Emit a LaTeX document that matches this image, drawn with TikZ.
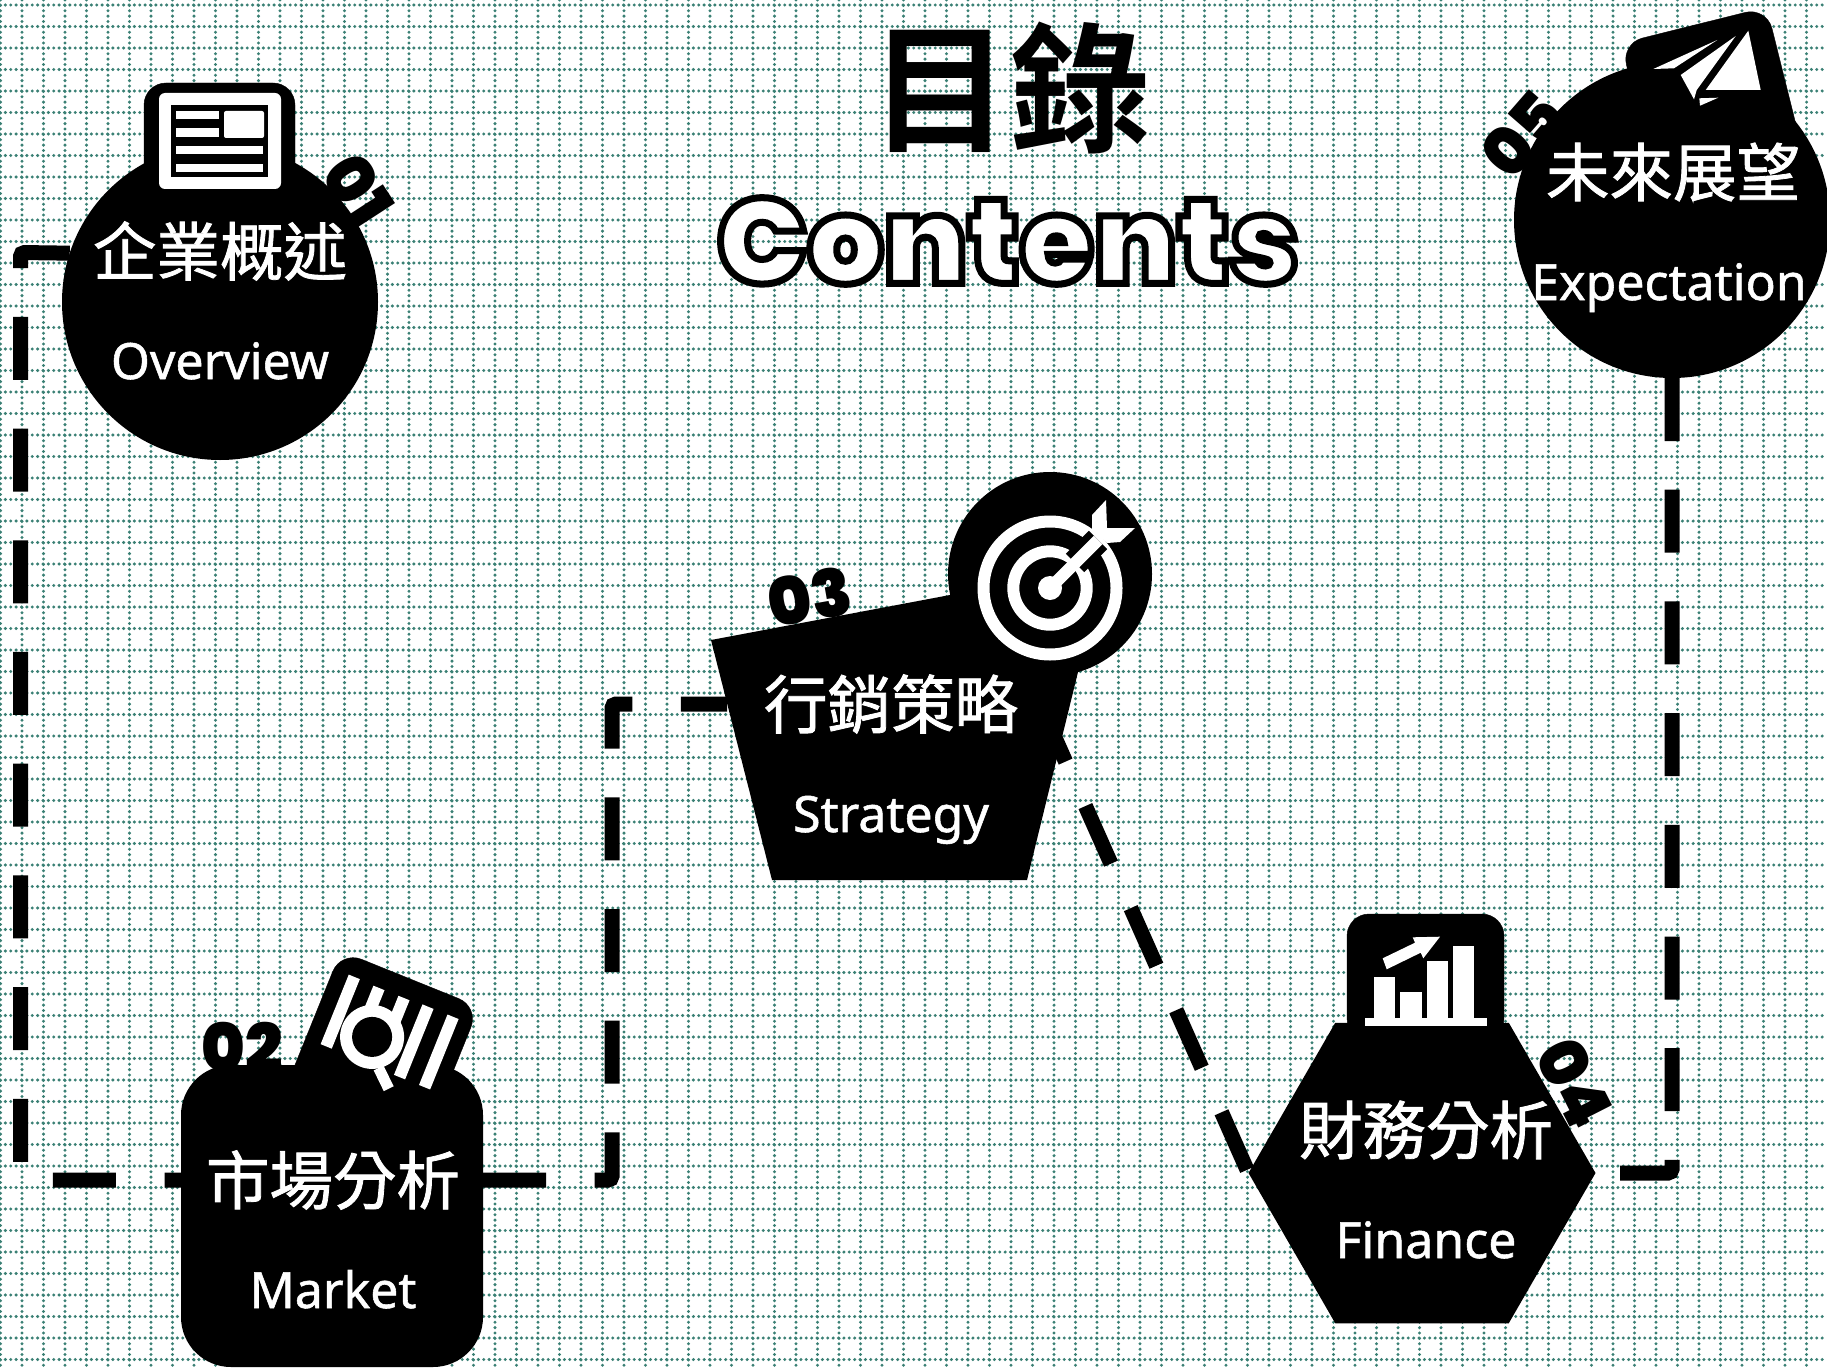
\documentclass[tikz,border=0pt]{standalone}
\usepackage{fontspec}
\usetikzlibrary{shapes.geometric}
\setmainfont[FakeBold=1.1]{Noto Sans}
\newfontfamily\zhfont[FakeBold=1.3]{Noto Sans CJK TC}
\newfontfamily\zhbold{Noto Sans CJK TC Bold}
\newfontfamily\headfont{Poppins Black}
\newfontfamily\numfont{Poppins Black}
\definecolor{gridteal}{HTML}{3A8074}
% texto con contorno
\newcommand{\outlined}[3]{\special{pdf:code #1 w 0 0 0 RG #2 rg 2 Tr}#3\special{pdf:code 0 Tr 1 w}}
\begin{document}
\begin{tikzpicture}[x=1pt, y=-1pt,
    link/.style={line width=15pt, dash pattern=on 63pt off 48.7pt, rounded corners=4pt},
    gridline/.style={gridteal, line width=3.3pt, line cap=round, dash pattern=on 0pt off 5.375pt},
    zhtext/.style={text=white, inner sep=0pt, font=\zhfont\fontsize{63.5}{70}\selectfont},
    entext/.style={text=white, inner sep=0pt, text height=36pt, text depth=10pt, font=\fontsize{50}{58}\selectfont, below of=#1, node distance=115pt},
    numtext/.style={inner sep=0pt, font=\numfont\fontsize{66}{70}\selectfont},
    iconbox/.style={fill=black, rounded corners=22pt},
    blob/.style={circle, fill=black, inner sep=0pt, outer sep=0pt},
    hexa/.style={regular polygon, regular polygon sides=6, fill=black, minimum size=347pt, inner sep=0pt, outer sep=0pt},
    squarish/.style={fill=black, rounded corners=50pt, minimum size=302pt, inner sep=0pt, outer sep=0pt}]

    \useasboundingbox (0,0) rectangle (1827,1367);
    \clip (0,0) rectangle (1827,1367);
    \fill[white] (0,0) rectangle (1827,1367);

    % Fondo punteado
    \foreach \gx in {0,...,84}
        \draw[gridline] (0.5+21.5*\gx,0) -- (0.5+21.5*\gx,1367);
    \foreach \gy in {0,...,63}
        \draw[gridline] (0,5+21.5*\gy) -- (1827,5+21.5*\gy);

    % Nodos principales
    \path node[blob, minimum size=316pt] (Ov) at (220,302) {}
          node[squarish] (Mk) at (332,1216) {}
          node[hexa] (Fi) at (1422,1173) {}
          node[blob, minimum size=316pt] (Ex) at (1672,220) {}
          node[blob, minimum size=204pt] (Tg) at (1050,574) {};
    \coordinate (StA) at (711,640);
    \coordinate (StB) at (1104,566);
    \coordinate (StC) at (1027,880);
    \coordinate (StD) at (772,880);
    \coordinate (StL) at (727,704);
    \coordinate (StR) at (1040,704);
    \fill (StA) -- (StB) -- (StC) -- (StD) -- cycle;

    % Conexiones punteadas
    \coordinate (bendA) at (20.5,252.5);
    \coordinate (bendB) at (20.5,1180);
    \coordinate (bendC) at (612,1180);
    \coordinate (bendD) at (612,704);
    \coordinate (bendE) at (1672,1173);
    \draw[link] (Ov.162) -- (bendA) -- (bendB) -- (Mk.west |- bendB);
    \draw[link] (Mk.east |- bendC) -- (bendC) -- (bendD) -- (StL);
    \draw[link] (StR) -- (Fi.corner 3);
    \draw[link] (Ex.south) -- (bendE) -- (Fi.corner 6);

    % Titulo
    \node[inner sep=0pt, font=\zhbold\fontsize{140}{150}\selectfont] (Title) at (1010,88) {目錄};
    \node[inner sep=0pt, font=\headfont\fontsize{120}{130}\selectfont] (Sub) at (1008,241) {\outlined{7}{1 1 1}{Contents}};

    % Icono 01
    \draw[iconbox] (144,83) rectangle (295,240);
    \fill[white, rounded corners=6pt] (159,93) rectangle (281,189);
    \fill (171,105) rectangle (268,177);
    \fill[white] (176,111) rectangle (219,119);
    \fill[white] (176,128) rectangle (219,137);
    \fill[white] (176,146) rectangle (263,154);
    \fill[white] (176,164) rectangle (263,172);
    \fill[white, rounded corners=2pt] (224,111) rectangle (264,138);

    % Icono 02
    \begin{scope}[shift={(378,1049)}, rotate=-22]
        \draw[iconbox] (-71,-77) rectangle (78,71);
        \fill[white] (-55,-58) rectangle (-43,17);
        \fill[white] (-28,-57) rectangle (-16,-30);
        \fill[white] (-1,-57) rectangle (11,-30);
        \fill[white] (24.5,-58) rectangle (36.5,18);
        \fill[white] (51.5,-58) rectangle (63.5,18);
        \draw[white, line width=11pt] (7.7,17.4) -- (24.8,32.8);
        \fill[white] (-10,-9) circle (32);
        \fill (-10,-9) circle (20);
    \end{scope}

    % Icono 03
    \draw[white, line width=12pt] (1050,588) circle (66.5);
    \draw[white, line width=12pt] (1050,588) circle (36.7);
    \fill[white] (1050,588) circle (12);
    \draw[black, line width=26pt] (1075,563) -- (1098,540);
    \draw[white, line width=12pt] (1050,588) -- (1098,540);
    \fill[white] (1106,500) -- (1092,515) -- (1092,530) -- (1107,543) -- (1120,542) -- (1135,528) -- (1107,528) -- cycle;

    % Icono 04
    \draw[iconbox] (1347,914) rectangle (1504,1040);
    \fill[white] (1373.5,976.7) rectangle (1395,1018.3);
    \fill[white] (1400,991.7) rectangle (1421.7,1018.3);
    \fill[white] (1426.7,961) rectangle (1448.3,1018.3);
    \fill[white] (1453.3,946) rectangle (1474.3,1018.3);
    \fill[white] (1365,1018.3) rectangle (1486.7,1026);
    \fill[white] (1382.7,958.3) -- (1415,942.7) -- (1412.7,937.3) -- (1440,936.7) -- (1423.3,958.3) -- (1420.7,952.7) -- (1386.7,969.3) -- cycle;

    % Icono 05
    \begin{scope}[shift={(1712,98)}, rotate=14]
        \draw[iconbox] (-75,-75) rectangle (75,75);
    \end{scope}
    \fill[white] (1653.3,69) -- (1717.3,40) -- (1674,68.3) -- cycle;
    \fill[white] (1680.7,75) -- (1735.7,36) -- (1696.7,90) -- (1694,99.3) -- cycle;
    \fill[white] (1748.3,30.7) -- (1760.7,90) -- (1705.7,90) -- cycle;
    \fill[white] (1699.3,98.3) -- (1718.3,97.7) -- (1700,105.7) -- cycle;

    % Textos de cada nodo
    \node[zhtext] (OvZh) at (220,251) {企業概述};
    \node[entext=OvZh] (OvEn) {Overview};
    \node[zhtext] (MkZh) at (333,1180) {市場分析};
    \node[entext=MkZh] (MkEn) {Market};
    \node[zhtext] (StZh) at (891,704) {行銷策略};
    \node[entext=StZh] (StEn) {Strategy};
    \node[zhtext] (FiZh) at (1426,1130) {財務分析};
    \node[entext=FiZh] (FiEn) {Finance};
    \node[zhtext] (ExZh) at (1673,172) {未來展望};
    \node[entext=ExZh, xshift=-4pt] (ExEn) {Expectation};

    % Numeros
    \node[numtext, rotate=-57] (NumA) at (358,190) {01};
    \node[numtext] (NumB) at (242,1047) {02};
    \node[numtext, rotate=10] (NumC) at (810,597) {03};
    \node[numtext, rotate=-63] (NumD) at (1575,1083) {04};
    \node[numtext, rotate=49] (NumE) at (1522,134) {05};

\end{tikzpicture}
\end{document}
